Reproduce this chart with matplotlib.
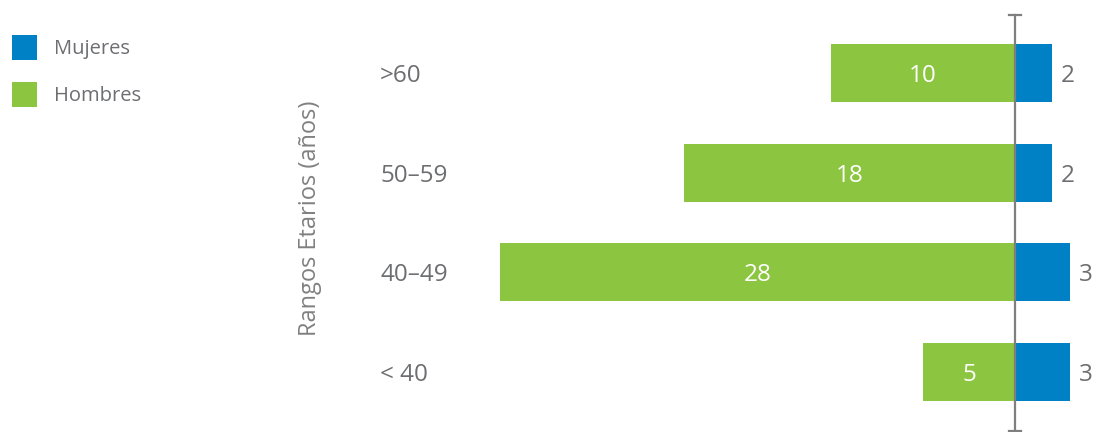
import matplotlib.pyplot as plt
import numpy as np

plt.rcParams['font.family'] = ['Open Sans', 'DejaVu Sans']

# data
rangos = ['< 40', '40-49', '50-59', '>60']
hombres = [5, 28, 18, 10]
mujeres = [3, 3, 2, 2]

azul = '#0081c6'
verde = '#8cc540'
gris = '#6d6e71'

fig = plt.figure(figsize=(10.97, 4.32), dpi=100)
ax = fig.add_axes([0, 0, 1, 1])

y = np.arange(len(rangos))
alto = 0.58

b_muj = ax.barh(y, mujeres, height=alto, color=azul, label='Mujeres', zorder=2)
b_hom = ax.barh(y, [-h for h in hombres], height=alto, color=verde, label='Hombres', zorder=2)

# value labels
for yi, h in zip(y, hombres):
    ax.text(-h / 2, yi, str(h), ha='center', va='center_baseline',
            color='white', fontsize=17.5)
for yi, m in zip(y, mujeres):
    ax.text(m + 0.5, yi, str(m), ha='left', va='center_baseline',
            color=gris, fontsize=17.5)

# category labels (left aligned)
for yi, r in zip(y, rangos):
    ax.text(-34.5, yi, r.replace('-', '\u2013'), ha='left', va='center_baseline',
            color=gris, fontsize=17.5)

# central axis line with caps
y_top, y_bot = 3.582, -0.592
ax.plot([0, 0], [y_bot, y_top], color='#7f7f7f', lw=1.6, zorder=3)
ax.plot([-0.3, 0.3], [y_top, y_top], color='#7f7f7f', lw=1.6, zorder=3)
ax.plot([-0.3, 0.3], [y_bot, y_bot], color='#7f7f7f', lw=1.6, zorder=3)

ax.set_xlim(-55.16, 4.457)
ax.set_ylim(-0.602, 3.732)
ax.axis('off')

fig.text(310 / 1097, 1 - 218 / 432, 'Rangos Etarios (años)', rotation=90,
         ha='center', va='center', color='#808080', fontsize=17)

fig.legend(handles=[b_muj, b_hom], loc='upper left',
           bbox_to_anchor=(12 / 1097, 1 - 35 / 432), frameon=False,
           fontsize=14.5, handlelength=1.25, handleheight=1.55,
           handletextpad=0.82, labelspacing=1.08, borderpad=0, borderaxespad=0,
           labelcolor=gris)

plt.savefig('out.png', dpi=100)
